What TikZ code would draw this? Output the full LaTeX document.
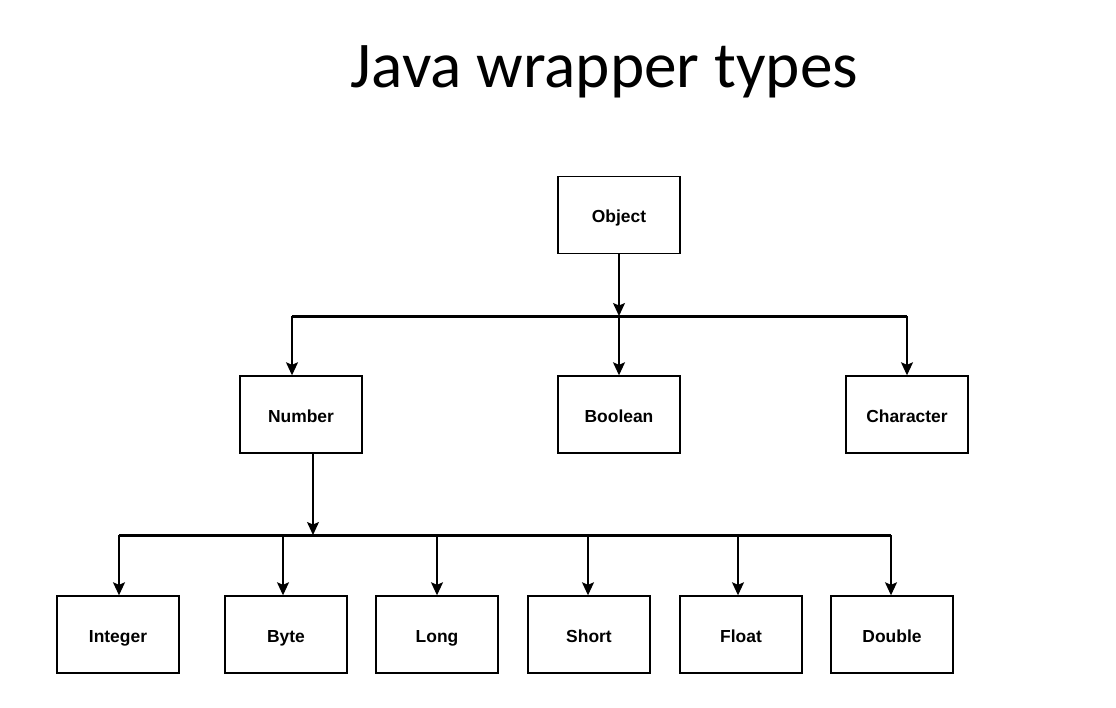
\documentclass[tikz,border=0pt]{standalone}
\usepackage{fontspec}
\setmainfont{Liberation Sans}
\newfontfamily\titlefont{Carlito}
\usetikzlibrary{arrows.meta}
\begin{document}
\begin{tikzpicture}[x=1bp,y=-1bp,>={Stealth[length=13bp,width=12bp,inset=2.5bp]},line join=miter,
  cls/.style={draw,line width=1.4bp,minimum width=122bp,minimum height=77bp,inner sep=0pt,text height=15bp,text depth=0bp,font=\bfseries\fontsize{17.5}{19}\selectfont},
  link/.style={->,line width=1.4bp},
  bus/.style={line width=3bp}]
\useasboundingbox (0,0) rectangle (1116,708);
%%
\node (title) at (604.5,88) [anchor=base,font=\titlefont\fontsize{65.5}{72}\selectfont] {Java wrapper types};
%% top two levels
\node (node_obj) at (619,215) [cls] {Object};
\node (node_num) at (301,414.5) [cls] {Number};
\node (node_bool) at (619,414.5) [cls] {Boolean};
\node (node_char) at (907,414.5) [cls] {Character};
\coordinate (bus_a) at (619,316);
\coordinate (bus_al) at (292,316);
\coordinate (bus_ar) at (907,316);
\draw [bus] (bus_al) -- (bus_ar);
\draw [link] (node_obj) -- (bus_a);
\draw [link] (bus_al) -- (bus_al |- node_num.north);
\draw [link] (bus_a) -- (node_bool);
\draw [link] (bus_ar) -- (bus_ar |- node_char.north);
%% number subtypes
\coordinate (bus_b) at (313,535);
\coordinate (bus_bl) at (119,535);
\coordinate (bus_br) at (891,535);
\draw [bus] (bus_bl) -- (bus_br);
\draw [link] (bus_b |- node_num.south) -- (bus_b);
\foreach \name/\x/\ax/\txt in {int/118/119/Integer,byte/286/283/Byte,long/437/437/Long,short/589/588/Short,float/741/738/Float,double/892/891/Double}{
  \node (node_\name) at (\x,634.5) [cls] {\txt};
  \coordinate (bus_\name) at (\ax,535);
  \draw [link] (bus_\name) -- (bus_\name |- node_\name.north);
}
%
\end{tikzpicture}
\end{document}
